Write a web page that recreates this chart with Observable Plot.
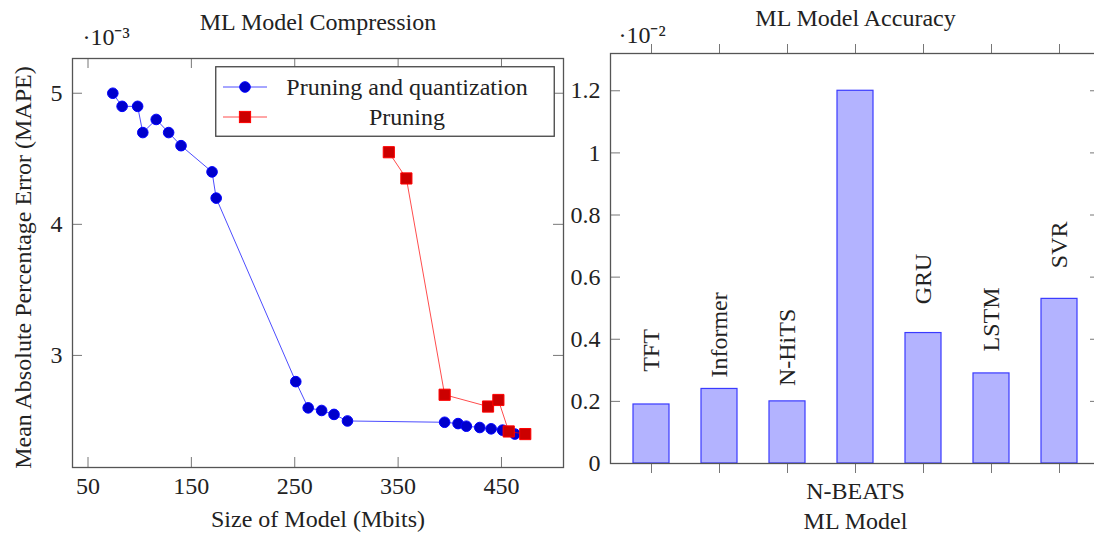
<!DOCTYPE html>
<html><head><meta charset="utf-8">
<script src="https://cdn.jsdelivr.net/npm/d3@7"></script>
<script src="https://cdn.jsdelivr.net/npm/@observablehq/plot@0.6"></script>
<style>
html,body{margin:0;padding:0;background:#fff;}
#wrap{position:relative;width:1094px;height:535px;overflow:hidden;background:#fff;font-family:"Liberation Serif",serif;}
#left,#right,#legend{position:absolute;top:0;}
#left{left:0;width:575px;}
#right{left:560px;width:545px;}
#legend{left:215px;top:66px;}
svg text{font-family:"Liberation Serif",serif;}
</style></head><body>
<div id="wrap"><div id="left"></div><div id="right"></div><div id="legend"></div></div>
<script>
// ---------- data ----------
// Left chart: size of model (Mbits) vs MAPE (x 10^-3)
const pqSize = [74, 83, 98, 103, 116, 128, 140, 170, 174, 251, 263, 276, 288, 301, 395, 408, 416, 429, 440, 451, 463];
const pqMape = [5.0, 4.9, 4.9, 4.7, 4.8, 4.7, 4.6, 4.4, 4.2, 2.8, 2.6, 2.58, 2.55, 2.5, 2.49, 2.48, 2.46, 2.45, 2.44, 2.43, 2.40];
const prSize = [341, 358, 395, 437, 447, 457, 473];
const prMape = [4.55, 4.35, 2.70, 2.61, 2.66, 2.42, 2.40];
const seriesNames = ["Pruning and quantization", "Pruning"];
const sizeTicks = [50, 150, 250, 350, 450];
const mapeTicks = [3, 4, 5];
const leftTitle = "ML Model Compression";
const leftXLabel = "Size of Model (Mbits)";
const leftYLabel = "Mean Absolute Percentage Error (MAPE)";
const leftExp = "·10⁻³";

// Right chart: accuracy (x 10^-2) per model
const models = ["TFT", "Informer", "N-HiTS", "N-BEATS", "GRU", "LSTM", "SVR"];
const accuracy = [0.19, 0.24, 0.20, 1.20, 0.42, 0.29, 0.53];
const accTicks = [0, 0.2, 0.4, 0.6, 0.8, 1, 1.2];
const labelBelow = ["N-BEATS"];
const rightTitle = "ML Model Accuracy";
const rightXLabel = "ML Model";
const rightExp = "·10⁻²";

// ---------- styles ----------
const FONT = "Liberation Serif";
const FS = 24;
const TXT = "#222";
const FRAME = "#555";
const TICK = "#777";
const fmt = d => `${d}`;
const T0 = {fontFamily: FONT, fontSize: FS, fill: TXT, lineAnchor: "middle", textAnchor: "middle"};

const pq = pqSize.map((s, i) => ({size: s, mape: pqMape[i]}));
const pr = prSize.map((s, i) => ({size: s, mape: prMape[i]}));
const acc = models.map((m, i) => ({model: m, value: accuracy[i]}));

// ---------- left chart ----------
{
  const W = 575, H = 535, ml = 72, mr = 12, mt = 58, mb = 68;
  const FW = W - ml - mr, FH = H - mt - mb, T = 10;
  const chart = Plot.plot({
    width: W, height: H, marginLeft: ml, marginRight: mr, marginTop: mt, marginBottom: mb,
    style: {fontFamily: FONT, fontSize: FS + "px", color: TXT, background: "transparent", maxWidth: "none"},
    x: {domain: [35, 510]},
    y: {domain: [2.145, 5.265]},
    marks: [
      Plot.ruleX(sizeTicks, {x: d => d, insetTop: FH - T, stroke: TICK}),
      Plot.ruleX(sizeTicks, {x: d => d, insetBottom: FH - T, stroke: TICK}),
      Plot.ruleY(mapeTicks, {y: d => d, insetRight: FW - T, stroke: TICK}),
      Plot.ruleY(mapeTicks, {y: d => d, insetLeft: FW - T, stroke: TICK}),
      Plot.frame({stroke: FRAME, strokeWidth: 1.3}),
      Plot.axisX({ticks: sizeTicks, tickFormat: fmt, anchor: "bottom", tickSize: 0, tickPadding: 9, label: null, fill: TXT, fontSize: FS, fontFamily: FONT}),
      Plot.axisY({ticks: mapeTicks, tickFormat: fmt, anchor: "left", tickSize: 0, tickPadding: 10, label: null, fill: TXT, fontSize: FS, fontFamily: FONT}),
      Plot.line(pq, {x: "size", y: "mape", stroke: "#0000ff", strokeOpacity: 0.7, strokeWidth: 1}),
      Plot.dot(pq, {x: "size", y: "mape", r: 5.3, fill: "#0000cc", stroke: "#0000ff", strokeWidth: 1}),
      Plot.line(pr, {x: "size", y: "mape", stroke: "#ff0000", strokeOpacity: 0.7, strokeWidth: 1}),
      Plot.dot(pr, {x: "size", y: "mape", symbol: "square", r: 6.3, fill: "#cc0000", stroke: "#ff0000", strokeWidth: 1}),
      Plot.text([leftTitle], {...T0, frameAnchor: "top", dy: -36}),
      Plot.text([leftExp], {...T0, frameAnchor: "top-left", textAnchor: "start", dx: 10, dy: -21}),
      Plot.text([leftXLabel], {...T0, frameAnchor: "bottom", dy: 52}),
      Plot.text([leftYLabel], {...T0, frameAnchor: "left", rotate: -90, dx: -49, dy: 4.5})
    ]
  });
  document.getElementById("left").appendChild(chart);
}

// ---------- legend ----------
{
  const w = 340, h = 71, rows = [21, 51], sx1 = 8, sx2 = 52, tx = 192;
  const ns = "http://www.w3.org/2000/svg";
  const svg = document.createElementNS(ns, "svg");
  svg.setAttribute("width", w); svg.setAttribute("height", h);
  const el = (tag, attrs, text) => {
    const e = document.createElementNS(ns, tag);
    for (const k in attrs) e.setAttribute(k, attrs[k]);
    if (text) e.textContent = text;
    svg.appendChild(e); return e;
  };
  el("rect", {x: 0.75, y: 0.75, width: w - 1.5, height: h - 1.5, fill: "#fff", stroke: "#444", "stroke-width": 1.3});
  const sx = (sx1 + sx2) / 2;
  el("line", {x1: sx1, x2: sx2, y1: rows[0], y2: rows[0], stroke: "#0000ff", "stroke-opacity": 0.7});
  el("circle", {cx: sx, cy: rows[0], r: 5.3, fill: "#0000cc", stroke: "#0000ff"});
  el("line", {x1: sx1, x2: sx2, y1: rows[1], y2: rows[1], stroke: "#ff0000", "stroke-opacity": 0.7});
  el("rect", {x: sx - 5.6, y: rows[1] - 5.6, width: 11.2, height: 11.2, fill: "#cc0000", stroke: "#ff0000"});
  seriesNames.forEach((n, i) => el("text", {x: tx, y: rows[i], "text-anchor": "middle", dy: "0.32em", fill: TXT, "font-family": FONT, "font-size": FS}, n));
  document.getElementById("legend").appendChild(svg);
}

// ---------- right chart ----------
{
  const W = 545, H = 535, ml = 50, mr = 5, mt = 53, mb = 72;
  const FW = W - ml - mr, FH = H - mt - mb, T = 10;
  const above = acc.filter(d => !labelBelow.includes(d.model));
  const below = acc.filter(d => labelBelow.includes(d.model));
  const chart = Plot.plot({
    width: W, height: H, marginLeft: ml, marginRight: mr, marginTop: mt, marginBottom: mb,
    style: {fontFamily: FONT, fontSize: FS + "px", color: TXT, background: "transparent", maxWidth: "none"},
    x: {domain: models, paddingInner: 0.47, paddingOuter: 0.32},
    y: {domain: [0, 1.32]},
    marks: [
      Plot.ruleY(accTicks, {y: d => d, insetRight: FW - T, stroke: TICK}),
      Plot.ruleY(accTicks, {y: d => d, insetLeft: FW - T, stroke: TICK}),
      Plot.axisX({anchor: "bottom", tickSize: T, fill: "none", stroke: TICK, label: null}),
      Plot.axisX({anchor: "top", tickSize: T, fill: "none", stroke: TICK, label: null}),
      Plot.axisY({ticks: accTicks, tickFormat: fmt, anchor: "left", tickSize: 0, tickPadding: 10, label: null, fill: TXT, fontSize: FS, fontFamily: FONT}),
      Plot.barY(acc, {x: "model", y: "value", fill: "#b3b3ff", stroke: "#3a3aff", strokeWidth: 1.2}),
      Plot.frame({stroke: FRAME, strokeWidth: 1.3}),
      Plot.text(above, {...T0, x: "model", y: "value", text: "model", rotate: -90, dy: -54}),
      Plot.text(below, {...T0, x: "model", y: 0, text: "model", dy: 27.5}),
      Plot.text([rightTitle], {...T0, frameAnchor: "top", dy: -35}),
      Plot.text([rightExp], {...T0, frameAnchor: "top-left", textAnchor: "start", dx: 8, dy: -18}),
      Plot.text([rightXLabel], {...T0, frameAnchor: "bottom", dy: 58})
    ]
  });
  document.getElementById("right").appendChild(chart);
}
</script>
</body></html>
